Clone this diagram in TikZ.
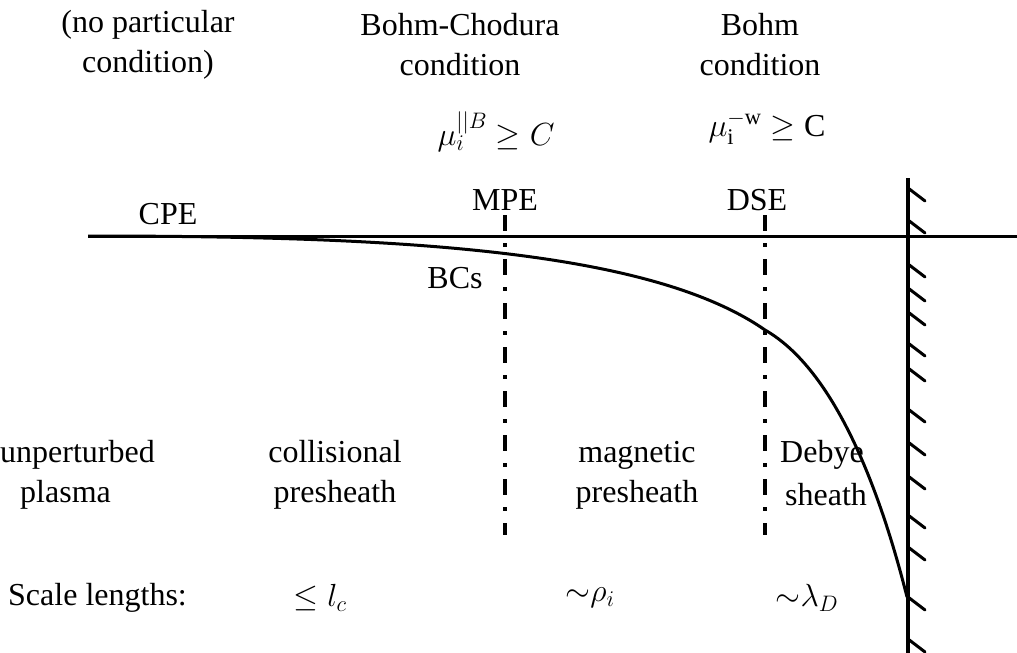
\documentclass[tikz,border=0pt]{standalone}
\usepackage{fix-cm}
\usepackage{fontspec}
\setmainfont{Liberation Serif}
\begin{document}
\begin{tikzpicture}[x=1pt,y=-1pt,
  lbl/.style={font=\fontsize{32}{40}\selectfont, align=center, inner sep=0pt},
  axisline/.style={line width=3pt},
  curveline/.style={line width=3pt},
  wallline/.style={line width=4pt},
  hatchline/.style={line width=3pt, line cap=round},
  ddline/.style={line width=4pt, dash pattern=on 16pt off 12pt on 4pt off 12pt}]
\useasboundingbox (0,0) rectangle (1017,653);
% top labels
\node[lbl] (t1) at (148,45) {(no particular\\condition)};
\node[lbl] (t2) at (460,45) {Bohm-Chodura\\condition};
\node[lbl] (t3) at (760,45) {Bohm\\condition};
\node[lbl] (f1) at (496,132) {$\mu_i^{||B}\geq C$};
\node[lbl] (f2) at (767,128) {$\mathrm{\mu_i^{-w}}\geq \mathrm{C}$};
% axis
\coordinate (a0) at (88,236);
\coordinate (a1) at (1017,236);
\draw[axisline] (a0) -- (a1);
\node[lbl] (cpe) at (168,214) {CPE};
\node[lbl] (mpe) at (505,200) {MPE};
\node[lbl] (dse) at (757,200) {DSE};
\node[lbl] (bcs) at (455,278) {BCs};
% dash-dot lines
\coordinate (m0) at (505,215); \coordinate (m1) at (505,535);
\coordinate (d0) at (765,215); \coordinate (d1) at (765,535);
\draw[ddline] (m0) -- (m1);
\draw[ddline] (d0) -- (d1);
% curve
\coordinate (c0) at (88,236);
\coordinate (cm) at (765,330);
\coordinate (c1) at (907,597);
\draw[curveline] (c0) .. controls (400,236) and (650,250) .. (cm)
  .. controls (835,370) and (880,490) .. (c1);
% wall
\coordinate (w0) at (908,178); \coordinate (w1) at (908,653);
\draw[wallline] (w0) -- (w1);
\foreach \yy in {188,220,264,288,312,343,368,409,442,476,515,547,597,639}
  \draw[hatchline] (908,\yy) -- (925,\yy+13);
% region labels
\node[lbl, anchor=west] (u1) at (0,455) {unperturbed};
\node[lbl, anchor=west] (u2) at (20,495) {plasma};
\node[lbl] (c1) at (335,475) {collisional\\presheath};
\node[lbl] (mg) at (637,475) {magnetic\\presheath};
\node[lbl, anchor=west] (db) at (780,455) {Debye};
\node[lbl, anchor=west] (sh) at (785,495) {sheath};
% scale lengths
\node[lbl, anchor=west] (sl) at (8,598) {Scale lengths:};
\node[lbl] (s1) at (320,598) {$\leq l_c$};
\node[lbl] (s2) at (590,598) {${\sim}\rho_i$};
\node[lbl] (s3) at (807,598) {${\sim}\lambda_D$};
\end{tikzpicture}
\end{document}
